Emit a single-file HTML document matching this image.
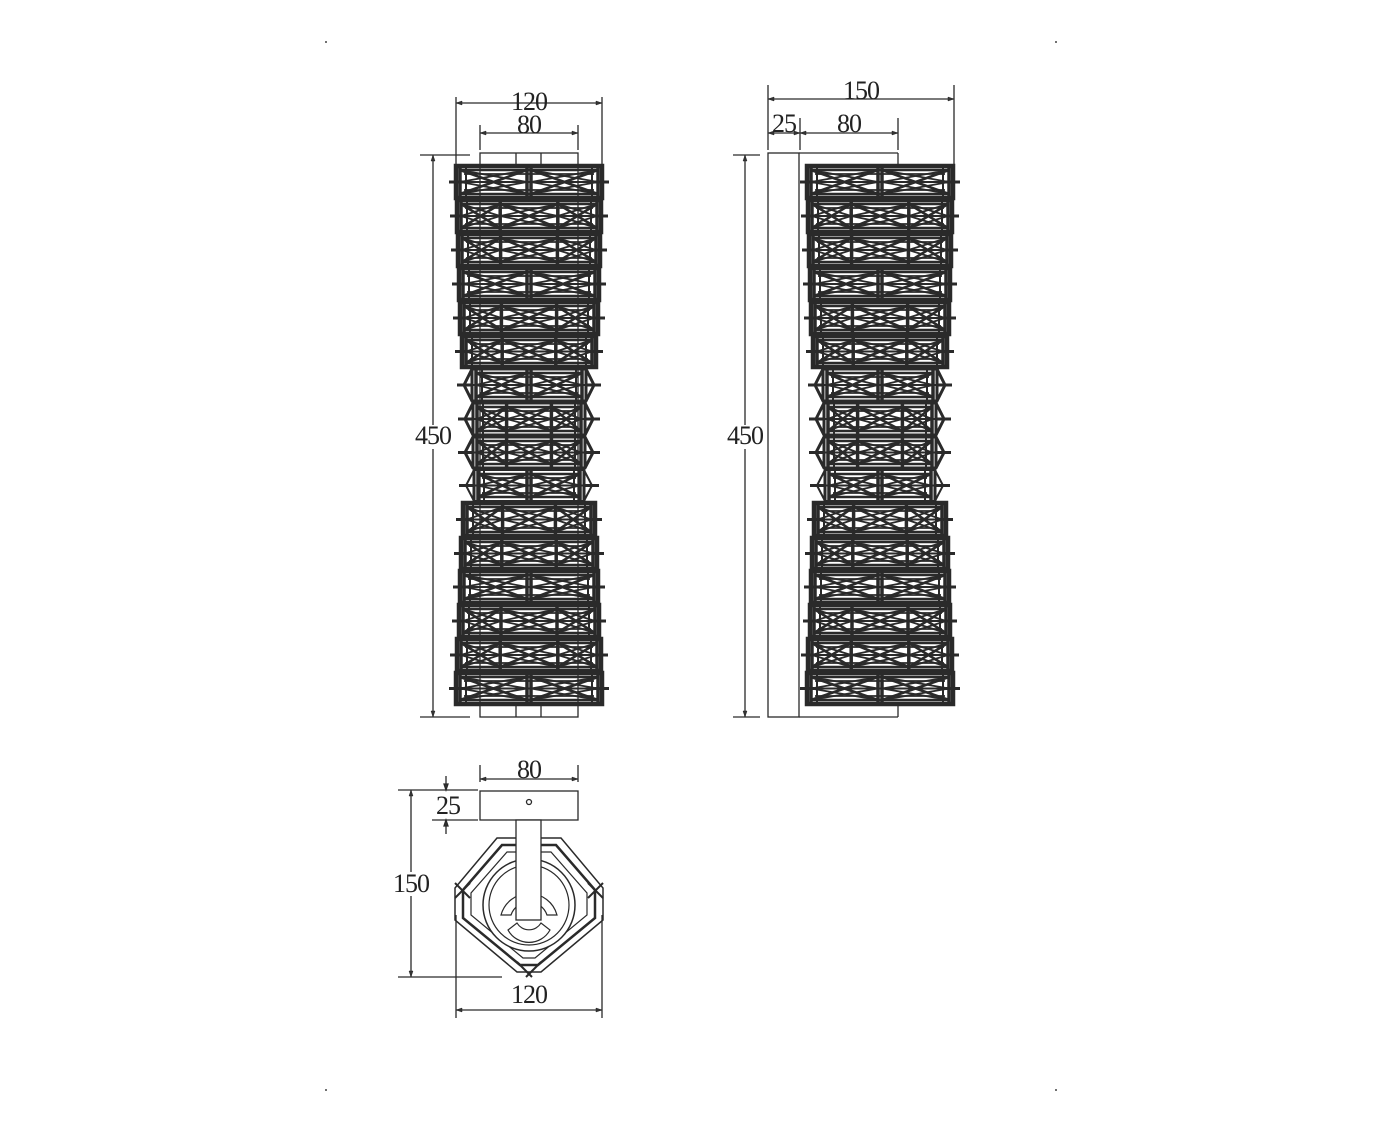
<!DOCTYPE html>
<html><head><meta charset="utf-8"><style>
html,body{margin:0;padding:0;background:#fff}
svg{display:block}
text{font-family:"Liberation Serif",serif;font-size:26px;fill:#222}
</style></head><body>
<svg id="s" width="1384" height="1132" viewBox="0 0 1384 1132" xmlns="http://www.w3.org/2000/svg">
<g fill="#444"><circle cx="326" cy="42" r="1"/><circle cx="1056" cy="42" r="1"/><circle cx="326" cy="1090" r="1"/><circle cx="1056" cy="1090" r="1"/></g>
<g id="g" stroke="#2a2a2a" fill="none" stroke-width="1.3"></g>
</svg>
<script>
var g=document.getElementById('g'),NS='http://www.w3.org/2000/svg';
function el(t,a){var e=document.createElementNS(NS,t);for(var k in a)e.setAttribute(k,a[k]);g.appendChild(e);return e}
function L(x1,y1,x2,y2,w){el('line',{x1:x1,y1:y1,x2:x2,y2:y2,'stroke-width':w||1.3})}
function T(x,y,s){var e=el('text',{x:x,y:y,'text-anchor':'middle',stroke:'none'});e.textContent=s;e.setAttribute('style','letter-spacing:-1px')}
function arrH(x1,x2,y){L(x1,y,x2,y);el('path',{d:'M'+x1+' '+y+'l6 -2v4z',fill:'#333','stroke-width':0.5});el('path',{d:'M'+x2+' '+y+'l-6 -2v4z',fill:'#333','stroke-width':0.5})}
function arrV(x,y1,y2){L(x,y1,x,y2);el('path',{d:'M'+x+' '+y1+'l-2 6h4z',fill:'#333','stroke-width':0.5});el('path',{d:'M'+x+' '+y2+'l-2 -6h4z',fill:'#333','stroke-width':0.5})}
var t=[165,199,233,267,301,335,368,402,436,469,502,537,570,604,638,672,705];
var hw=[73,72,71,70,69,67,65,64,64,63,66,68,69,70,72,73];
function tower(cx){
 for(var i=0;i<16;i++){
  var y1=t[i]+1,y2=t[i+1]-1,h=hw[i],a=cx-h,b=cx+h,m=(y1+y2)/2,hex=(i>=6&&i<=9);
  if(hex){var p=8;el('path',{d:'M'+(a+p)+' '+y1+'H'+(b-p)+'L'+b+' '+m+'L'+(b-p)+' '+y2+'H'+(a+p)+'L'+a+' '+m+'Z','stroke-width':i==9?2:3});L(a+p,y1,a+p,y2,3);L(b-p,y1,b-p,y2,3);a+=p;b-=p}
  else el('rect',{x:a,y:y1,width:b-a,height:y2-y1,'stroke-width':4.5});
  el('rect',{x:a+4,y:y1+4,width:b-a-8,height:y2-y1-8,'stroke-width':2.5});
  var d=i%3==0?[a+4,cx-2,cx+2,b-4]:[a+4,a+(b-a)*0.3,b-(b-a)*0.3,b-4];
  for(var k=0;k<d.length;k++)L(d[k],y1,d[k],y2,3.5);
  for(k=0;k<d.length-1;k++){if(d[k+1]-d[k]<8)continue;L(d[k],y1+4,d[k+1],y2-4,2.6);L(d[k],y2-4,d[k+1],y1+4,2.6);
   L(d[k],m,d[k+1],y1+4,1.8);L(d[k],m,d[k+1],y2-4,1.8);L(d[k+1],m,d[k],y1+4,1.8);L(d[k+1],m,d[k],y2-4,1.8);}
  L(a,m,b,m,2);L(a+8,y1+8,b-8,y1+8,1.8);L(a+8,y2-8,b-8,y2-8,1.8);
  L(a+10,y1,a+10,y2,2);L(b-10,y1,b-10,y2,2);
  L(cx-h-7,m,cx-h+7,m,3);L(cx+h-7,m,cx+h+7,m,3);
 }
}
el('rect',{x:480,y:153,width:98,height:12});L(516,153,516,165);L(541,153,541,165);
el('rect',{x:480,y:705,width:98,height:12});L(516,705,516,717);L(541,705,541,717);
L(480,165,480,705);L(578,165,578,705);
tower(529);
el('rect',{x:768,y:153,width:31,height:564});L(799,153,898,153);L(898,153,898,165);L(799,717,898,717);L(898,705,898,717);
tower(880);
L(456,97,456,165);L(602,97,602,165);arrH(456,602,103);T(529,110,'120');
L(480,125,480,150);L(578,125,578,150);arrH(480,578,133);T(529,133,'80');
L(420,155,470,155);L(420,717,470,717);arrV(433,155,717);
el('rect',{x:414,y:425,width:38,height:24,fill:'#fff',stroke:'none'});T(433,444,'450');
L(768,85,768,150);L(954,85,954,168);arrH(768,954,99);T(861,99,'150');
L(800,118,800,150);L(898,118,898,150);arrH(768,800,133);arrH(800,898,133);T(784,132,'25');T(849,132,'80');
L(733,155,760,155);L(733,717,760,717);arrV(745,155,717);
el('rect',{x:726,y:425,width:38,height:24,fill:'#fff',stroke:'none'});T(745,444,'450');
L(480,765,480,782);L(578,765,578,782);arrH(480,578,779);T(529,778,'80');
el('rect',{x:480,y:791,width:98,height:29});el('circle',{cx:529,cy:802,r:2.5});
el('path',{d:'M497 838L561 838L603 888L603 920L541 972L517 972L455 920L455 888Z','stroke-width':1.5});
el('path',{d:'M502 845L556 845L595 890L595 918L538 965L520 965L463 918L463 890Z','stroke-width':2.5});
el('path',{d:'M507 852L551 852L587 893L587 915L535 958L523 958L471 915L471 893Z','stroke-width':1.2});
el('circle',{cx:529,cy:905,r:46,fill:'#fff','stroke-width':1.5});el('circle',{cx:529,cy:905,r:40,'stroke-width':1.2});
el('path',{d:'M501 915A29 29 0 0 1 557 915L547 915A19 19 0 0 0 511 915Z','stroke-width':1.2});
el('path',{d:'M508 930A24 24 0 0 0 550 930L541 923A14 14 0 0 1 517 923Z','stroke-width':1.2});
el('rect',{x:516,y:820,width:25,height:100,fill:'#fff'});
L(455,883,470,898,2);L(455,898,470,883,2);L(603,883,588,898,2);L(603,898,588,883,2);L(517,962,532,977,2);L(541,962,526,977,2);
L(398,790,478,790);L(398,977,502,977);arrV(411,790,977);
el('rect',{x:392,y:872,width:38,height:24,fill:'#fff',stroke:'none'});T(411,892,'150');
L(432,820,478,820);L(446,776,446,790);L(446,820,446,834);
el('path',{d:'M446 790l-2 -6h4z',fill:'#333'});el('path',{d:'M446 820l-2 6h4z',fill:'#333'});T(448,814,'25');
L(456,915,456,1018);L(602,915,602,1018);arrH(456,602,1010);T(529,1003,'120');
</script>
</body></html>
